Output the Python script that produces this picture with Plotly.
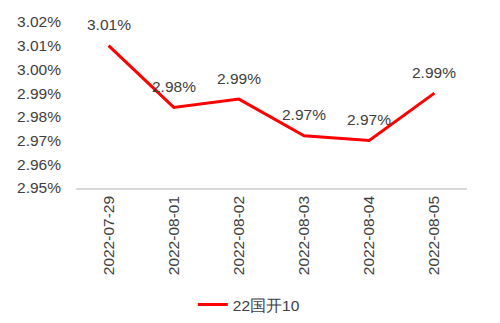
import plotly.graph_objects as go

dates = ["2022-07-29", "2022-08-01", "2022-08-02", "2022-08-03", "2022-08-04", "2022-08-05"]
values = [3.010, 2.984, 2.9875, 2.972, 2.970, 2.990]
labels = ["3.01%", "2.98%", "2.99%", "2.97%", "2.97%", "2.99%"]
y_ticks = [2.95, 2.96, 2.97, 2.98, 2.99, 3.00, 3.01, 3.02]
y_tick_text = ["2.95%", "2.96%", "2.97%", "2.98%", "2.99%", "3.00%", "3.01%", "3.02%"]
series_name = "22国开10"

font_family = "'Liberation Sans', Arial, sans-serif"
text_color = "#404040"
fs = 15.5

fig = go.Figure()
fig.add_trace(go.Scatter(
    x=dates, y=values, mode="lines", name=series_name,
    line=dict(color="#ff0000", width=3),
))

for d, v, t in zip(dates, values, labels):
    fig.add_annotation(x=d, y=v, text=t, showarrow=False, yshift=21,
                       font=dict(size=fs, color=text_color, family=font_family))

fig.update_layout(
    width=500, height=323,
    margin=dict(l=76, r=33, t=22, b=135, autoexpand=False),
    paper_bgcolor="white", plot_bgcolor="white",
    font=dict(family=font_family, size=fs, color=text_color),
    showlegend=True,
    legend=dict(orientation="h", x=0.442, xanchor="center", y=-0.705, yanchor="middle",
                font=dict(size=fs, color=text_color)),
    xaxis=dict(type="category", range=[-0.5, 5.5], tickangle=-90, showgrid=False, showline=True,
               linecolor="#d9d9d9", linewidth=1.5, ticks="", tickfont=dict(size=fs),
               automargin=False),
    yaxis=dict(range=[2.95, 3.02], tickvals=y_ticks, ticktext=y_tick_text,
               showgrid=False, zeroline=False, showline=False, ticks="",
               ticklabelstandoff=14, tickfont=dict(size=fs), automargin=False),
)

fig.write_html("out.html")
